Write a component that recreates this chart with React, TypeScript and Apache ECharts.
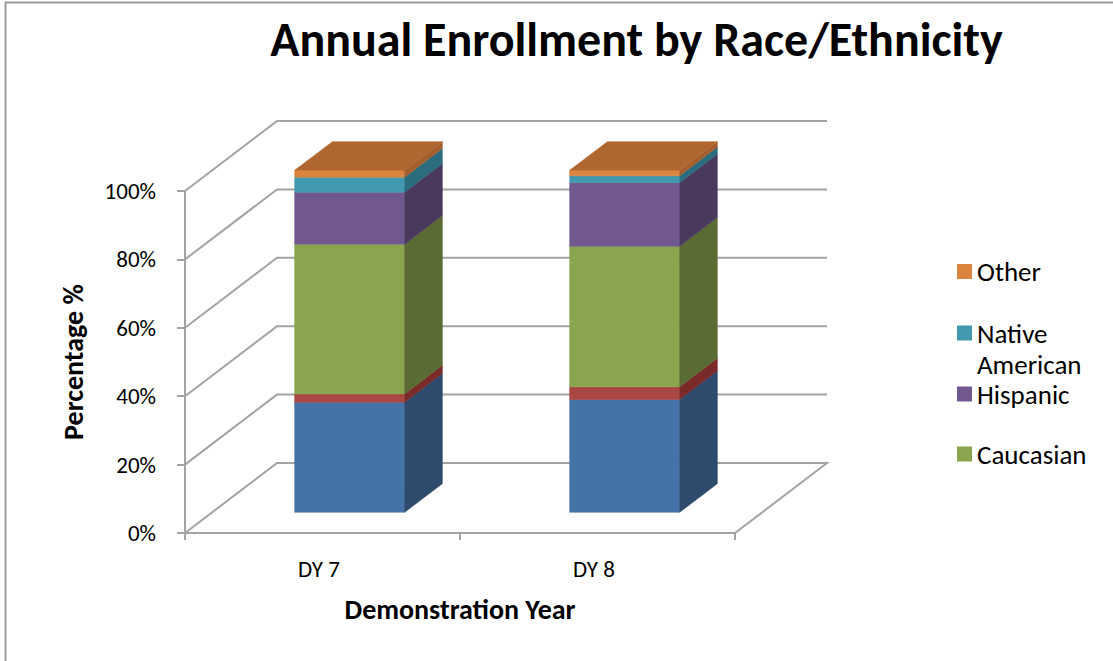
import React, { useEffect, useRef } from 'react';
import * as echarts from 'echarts';

// ---- data ----
const categories = ['DY 7', 'DY 8'];
const seriesNames = ['African American', 'Asian', 'Caucasian', 'Hispanic', 'Native American', 'Other'];
const africanAmerican = [32.2, 33.0];
const asian = [2.4, 3.7];
const caucasian = [43.8, 41.1];
const hispanic = [15.2, 18.6];
const nativeAmerican = [4.4, 2.0];
const other = [2.0, 1.6];
const yTicks = [0, 20, 40, 60, 80, 100];
const legendNames = ['Other', 'Native American', 'Hispanic', 'Caucasian'];
const titleText = 'Annual Enrollment by Race/Ethnicity';

// ---- styles ----
const frontColors = ['#4572A7', '#AA4643', '#89A54E', '#71588F', '#4198AF', '#DB843D'];
const sideColors = ['#2E4A6D', '#7A2B29', '#5A6B33', '#4A385D', '#2B6D7F', '#A55F2C'];
const topColor = '#AF672F';
const gridColor = '#A3A3A3';
const FONT = 'Carlito, Calibri, Lato, sans-serif';
const DX = 92;
const DY = -70;
const T_FRONT = 0.295;
const T_BACK = 0.705;
const BAR_RATIO = 0.4;
const legendIconCenters = [271.5, 333, 393.5, 454];
const legendLineHeights = [30, 31, 26, 30];

export default function App() {
  const ref = useRef<HTMLDivElement>(null);

  useEffect(() => {
    if (!ref.current) return;
    const chart = echarts.init(ref.current, undefined, { renderer: 'svg' });

    const valueSets = [africanAmerican, asian, caucasian, hispanic, nativeAmerican, other];
    const bases = categories.map(() => 0);

    const barSeries = valueSets.map((vals, si) => {
      const data = categories.map((_, ci) => {
        const lo = bases[ci];
        const hi = lo + vals[ci];
        bases[ci] = hi;
        return [ci, lo, hi];
      });
      const isTop = si === valueSets.length - 1;
      return {
        type: 'custom',
        name: seriesNames[si],
        clip: false,
        z: 5,
        itemStyle: { color: frontColors[si] },
        encode: { x: 0, y: [1, 2] },
        data,
        renderItem: (params: any, api: any) => {
          const cat = api.value(0);
          const lo = api.value(1);
          const hi = api.value(2);
          const pLo = api.coord([cat, lo]);
          const pHi = api.coord([cat, hi]);
          const band = api.size([1, 0])[0];
          const w = band * BAR_RATIO;
          const fx = T_FRONT * DX;
          const fy = T_FRONT * DY;
          const ddx = (T_BACK - T_FRONT) * DX;
          const ddy = (T_BACK - T_FRONT) * DY;
          const x0 = pLo[0] - w / 2 + fx;
          const x1 = pLo[0] + w / 2 + fx;
          const yb = pLo[1] + fy;
          const yt = pHi[1] + fy;
          const children: any[] = [
            {
              type: 'polygon',
              shape: { points: [[x0, yb], [x1, yb], [x1, yt], [x0, yt]] },
              style: { fill: frontColors[si], stroke: frontColors[si], lineWidth: 0.5 },
            },
            {
              type: 'polygon',
              shape: { points: [[x1, yb], [x1 + ddx, yb + ddy], [x1 + ddx, yt + ddy], [x1, yt]] },
              style: { fill: sideColors[si], stroke: sideColors[si], lineWidth: 0.5 },
            },
          ];
          if (isTop) {
            children.push({
              type: 'polygon',
              shape: { points: [[x0, yt], [x1, yt], [x1 + ddx, yt + ddy], [x0 + ddx, yt + ddy]] },
              style: { fill: topColor, stroke: topColor, lineWidth: 0.5 },
            });
          }
          return { type: 'group', children };
        },
      };
    });

    const gridSeries = {
      type: 'custom',
      name: 'gridlines',
      clip: false,
      z: 1,
      silent: true,
      encode: { x: 0, y: 1 },
      data: yTicks.map((v) => [0, v]),
      renderItem: (params: any, api: any) => {
        const v = api.value(1);
        const p = api.coord([0, v]);
        const cs = params.coordSys;
        const left = cs.x;
        const right = cs.x + cs.width;
        const y = p[1];
        const pts = [[left, y], [left + DX, y + DY], [right + DX, y + DY]];
        if (v === 0) pts.push([right, y]);
        return {
          type: 'polyline',
          shape: { points: pts },
          style: { stroke: gridColor, lineWidth: 2, fill: 'none' },
        };
      },
    };

    const legends = legendNames.map((name, i) => {
      const multi = name === 'Native American';
      const lh = legendLineHeights[i];
      return {
        data: [name],
        orient: 'vertical',
        left: 957,
        top: legendIconCenters[i] - (multi ? 1.5 * lh : lh / 2),
        itemWidth: 15,
        itemHeight: 15,
        icon: 'rect',
        padding: 0,
        selectedMode: false,
        formatter: (n: string) => (n === 'Native American' ? ' \nNative\nAmerican' : n),
        textStyle: { fontSize: 27, color: '#000', fontFamily: FONT, lineHeight: lh },
      };
    });

    chart.setOption({
      animation: false,
      backgroundColor: '#fff',
      legend: legends,
      grid: { left: 185, top: 191, width: 550, height: 342, containLabel: false },
      xAxis: {
        type: 'category',
        data: categories,
        boundaryGap: true,
        axisLine: { show: true, lineStyle: { color: gridColor, width: 2 } },
        axisTick: { show: true, length: 7, alignWithLabel: false, lineStyle: { color: gridColor, width: 2 } },
        axisLabel: { fontSize: 23, color: '#000', margin: 24, fontFamily: FONT, padding: [0, 7, 0, 0] },
        splitLine: { show: false },
        name: 'Demonstration Year',
        nameLocation: 'middle',
        nameGap: 62,
        nameTextStyle: { fontSize: 28, fontWeight: 'bold', color: '#000', fontFamily: FONT },
      },
      yAxis: {
        type: 'value',
        min: 0,
        max: 100,
        interval: 20,
        axisLine: { show: true, lineStyle: { color: gridColor, width: 2 } },
        axisTick: { show: true, length: 8, lineStyle: { color: gridColor, width: 2 } },
        axisLabel: { formatter: '{value}%', fontSize: 23, color: '#000', margin: 29, fontFamily: FONT },
        splitLine: { show: false },
        name: 'Percentage %',
        nameLocation: 'middle',
        nameGap: 98,
        nameTextStyle: { fontSize: 28, fontWeight: 'bold', color: '#000', fontFamily: FONT },
      },
      graphic: [
        { type: 'line', shape: { x1: 5, y1: 2.5, x2: 1113, y2: 2.5 }, style: { stroke: '#9A9A9A', lineWidth: 2 } },
        { type: 'line', shape: { x1: 5.5, y1: 2, x2: 5.5, y2: 661 }, style: { stroke: '#9A9A9A', lineWidth: 2 } },
        {
          type: 'text',
          x: 636.5,
          y: 15,
          style: {
            text: titleText,
            textAlign: 'center',
            textVerticalAlign: 'top',
            fill: '#000',
            font: `bold 48px ${FONT}`,
          },
        },
      ],
      series: [gridSeries, ...barSeries],
    });

    return () => chart.dispose();
  }, []);

  return (
    <div
      ref={ref}
      style={{ position: 'fixed', left: 0, top: 0, width: 1113, height: 661, background: '#fff' }}
    />
  );
}
